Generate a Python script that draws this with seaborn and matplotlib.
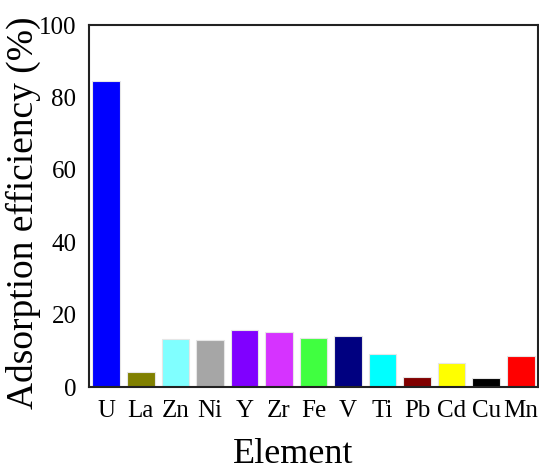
import matplotlib
matplotlib.use("Agg")
import matplotlib.pyplot as plt
import seaborn as sns
import pandas as pd

elements = ["U", "La", "Zn", "Ni", "Y", "Zr", "Fe", "V", "Ti", "Pb", "Cd", "Cu", "Mn"]
efficiency = [84.6, 4.1, 13.3, 12.9, 15.7, 15.1, 13.4, 14.0, 9.2, 2.9, 6.6, 2.5, 8.6]
colors = ["#0000ff", "#808000", "#80ffff", "#a6a6a6", "#8000ff", "#d633ff", "#40ff40",
          "#000080", "#00ffff", "#800000", "#ffff00", "#000000", "#ff0000"]
yticks = [0, 20, 40, 60, 80, 100]

sns.set_style("white")
plt.rcParams["font.family"] = ["Liberation Serif", "DejaVu Serif"]
plt.rcParams["text.color"] = "black"
plt.rcParams["xtick.color"] = "black"
plt.rcParams["ytick.color"] = "black"
plt.rcParams["axes.labelcolor"] = "black"

df = pd.DataFrame({"Element": elements, "Eff": efficiency})

fig = plt.figure(figsize=(5.39, 4.65), dpi=100)
ax = fig.add_axes([89 / 539, 1 - 387 / 465, (538 - 89) / 539, (387 - 25) / 465])

sns.barplot(data=df, x="Element", y="Eff", hue="Element", palette=colors, legend=False,
            saturation=1, width=0.8, edgecolor="#e6e6e6", linewidth=0.8, ax=ax)

ax.set_xlim(-0.5, len(elements) - 0.5)
ax.set_ylim(0, 100)
ax.set_yticks(yticks)
ax.set_yticklabels([str(t) for t in yticks])
ax.tick_params(axis="both", length=0, labelsize=18)
ax.tick_params(axis="x", pad=9)
ax.tick_params(axis="y", pad=9)
ax.set_xlabel("Element", fontsize=26)
ax.set_ylabel("Adsorption efficiency (%)", fontsize=27)
ax.xaxis.set_label_coords(0.455, -0.14)
ax.yaxis.set_label_coords(-0.106, 0.48)
for s in ax.spines.values():
    s.set_visible(True)
    s.set_color("#222222")
    s.set_linewidth(1.5)

fig.savefig("out.png", dpi=100)
